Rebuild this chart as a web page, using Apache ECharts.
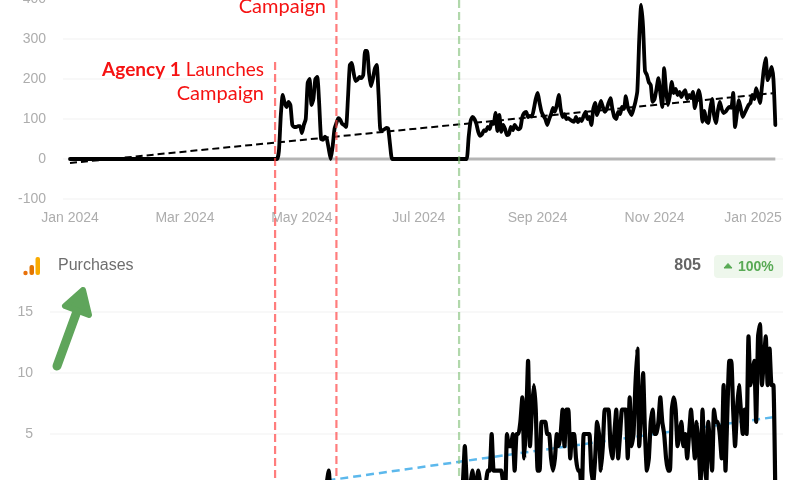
<!DOCTYPE html>
<html><head><meta charset="utf-8">
<style>html,body{margin:0;padding:0;background:#fff}#c{width:800px;height:480px}</style>
<script src="https://cdn.jsdelivr.net/npm/echarts@6/dist/echarts.min.js"></script>
</head><body><div id="c"></div>
<script>
const firstDay = '2024-01-01';
const xTickLabels = ['2024-01-01','2024-03-01','2024-05-01','2024-07-01','2024-09-01','2024-11-01','2025-01-01'];
const yTicksTop = [-100,0,100,200,300,400];
const yTicksBottom = [5,10,15];

// daily values, first entry = firstDay, rows of ten
const sessions = [
0,0,0,0,0,0,0,0,0,0, 0,0,0,0,0,0,0,0,0,0, 0,0,0,0,0,0,0,0,0,0, 0,0,0,0,0,0,0,0,0,0,
0,0,0,0,0,0,0,0,0,0, 0,0,0,0,0,0,0,0,0,0, 0,0,0,0,0,0,0,0,0,0, 0,0,0,0,0,0,0,0,0,0,
0,0,0,0,0,0,0,0,0,0, 0,0,0,0,0,0,0,0,0,0,
/*100*/0,0,0,0,0,0,0,0,0,20, 110,160,140,130,143,135,85,80,80,82,
/*120*/82,65,85,100,190,200,135,150,200,205, 140,50,48,56,50,25,0,30,75,90,
/*140*/102,98,88,85,80,150,235,240,215,195, 198,205,202,210,270,270,215,182,200,225,
/*160*/235,160,72,72,74,78,76,35,0,0, 0,0,0,0,0,0,0,0,0,0,
/*180*/0,0,0,0,0,0,0,0,0,0, 0,0,0,0,0,0,0,0,0,0,
/*200*/0,0,0,0,0,0,0,0,55,95, 105,100,88,68,58,62,72,70,80,75,
/*220*/92,88,115,70,110,68,85,75,60,62, 80,72,85,78,74,78,105,115,118,105,
/*240*/108,106,125,150,165,140,118,108,100,85, 100,112,128,118,135,160,125,105,112,100,
/*260*/102,98,95,93,105,92,100,95,108,118, 100,105,85,125,140,110,125,145,130,118,
/*280*/125,140,152,125,105,100,118,112,130,125, 157,130,118,110,125,143,170,300,385,330,
/*300*/220,210,192,185,143,150,175,202,165,130, 227,170,135,160,193,165,175,160,168,155,
/*320*/165,172,150,160,152,168,127,150,172,150, 93,120,95,90,125,150,110,90,120,143,
/*340*/125,115,118,125,130,128,165,80,115,147, 125,105,115,125,135,140,160,150,177,160,
/*360*/140,180,225,252,197,210,230,200,85];

const purchases = [
0,0,0,0,0,0,0,0,0,0, 0,0,0,0,0,0,0,0,0,0, 0,0,0,0,0,0,0,0,0,0, 0,0,0,0,0,0,0,0,0,0,
0,0,0,0,0,0,0,0,0,0, 0,0,0,0,0,0,0,0,0,0, 0,0,0,0,0,0,0,0,0,0, 0,0,0,0,0,0,0,0,0,0,
0,0,0,0,0,0,0,0,0,0, 0,0,0,0,0,0,0,0,0,0,
/*100*/0,0,0,0,0,0,0,0,0,0, 1,0,1,0,0,1,0,0,0,1, 0,0,1,0,1,0,0,0,1,0, 0,1,0,0,1,2,0,0,1,0,
/*140*/0,1,0,0,1,0,1,0,0,1, 0,0,1,0,1,0,1,0,0,0, 1,0,0,0,1,0,0,0,0,0, 0,0,0,0,0,0,0,0,0,0,
/*180*/0,0,0,0,0,0,0,0,0,0, 0,0,0,0,0,0,0,0,0,0,
/*200*/0,0,0,0,0,1,4,1,0,1, 2,0,1,2,1,0,0,1,2,2,
/*220*/5,2,2,2,2,2,1,0,5,4, 4,5,2,5,5,6,8,3,6,11,
/*240*/4,7,9,7,2,2,6,6,6,5, 5,3,2,3,5,4,5,7,4,7,
/*260*/7,3,5,5,3,2,2,0,5,5, 5,5,2,1,3,6,5,2,4,7,
/*280*/7,7,4,3,5,7,3,5,7,7, 7,3,8,4,5,9,12,4,7,10,
/*300*/5,2,3,6,7,5,5,6,8,6, 5,3,2,2,7,8,7,4,5,6,
/*320*/4,5,3,5,7,5,3,6,4,1, 7,3,1,6,4,2,7,6,6,5,
/*340*/3,9,2,7,11,11,7,4,7,9, 7,5,7,5,13,9,10,11,6,13,
/*360*/14,9,11,13,9,12,9,9,0];

const trendDays = [0, 368];
const sessionsTrend = [-10, 165];
const purchasesTrend = [-1.8, 6.4];

const eventDays = ['2024-04-17','2024-05-19','2024-07-22'];
const eventColors = ['rgba(255,70,70,0.7)','rgba(255,70,70,0.7)','rgba(125,190,115,0.6)'];
const eventTops = [62,0,0];

const DAY = 86400000;
const t0 = Date.parse(firstDay);
const dayOf = s => (Date.parse(s)-t0)/DAY;
const asPairs = vals => vals.map((v,i)=>[i,v]);
const trendPairs = vals => trendDays.map((d,i)=>[d,vals[i]]);
const labelStyle = {color:'#adadad',fontFamily:'Liberation Sans',fontSize:14};
const gridLine = {show:true,lineStyle:{color:'#f6f6f6',width:1.5}};
const hideAxis = {axisLine:{show:false},axisTick:{show:false}};
const MONTHS = ['Jan','Feb','Mar','Apr','May','Jun','Jul','Aug','Sep','Oct','Nov','Dec'];

const option = {
  animation:false,
  backgroundColor:'#fff',
  grid:[
    {left:63,width:720,top:-1,height:200,outerBoundsMode:'none'},
    {left:50,width:733,top:312,height:183,outerBoundsMode:'none'},
    {left:63,width:720,top:0,height:480,outerBoundsMode:'none'}
  ],
  xAxis:[
    {type:'value',gridIndex:0,min:-3.65,max:372,...hideAxis,splitLine:{show:false},
     axisLabel:{...labelStyle,margin:12,
       customValues:xTickLabels.map(dayOf),
       formatter:(v)=>{
         const d=new Date(t0+v*DAY);
         const s=MONTHS[d.getUTCMonth()]+' '+d.getUTCFullYear();
         return d.getUTCFullYear()===2025?'{end|'+s+'}':s;
       },
       rich:{end:{...labelStyle,padding:[0,37,0,0]}}}},
    {type:'value',gridIndex:1,min:-10.43,max:372,...hideAxis,splitLine:{show:false},axisLabel:{show:false}},
    {type:'value',gridIndex:2,min:-3.65,max:372,show:false,splitLine:{show:false}}
  ],
  yAxis:[
    {type:'value',gridIndex:0,min:yTicksTop[0],max:yTicksTop[yTicksTop.length-1],interval:100,...hideAxis,
     splitLine:gridLine,axisLabel:{...labelStyle,margin:17}},
    {type:'value',gridIndex:1,min:0,max:yTicksBottom[yTicksBottom.length-1],interval:5,...hideAxis,
     splitLine:gridLine,axisLabel:{...labelStyle,margin:17,formatter:v=>v===0?'':v}},
    {type:'value',gridIndex:2,min:0,max:480,inverse:true,show:false,splitLine:{show:false}}
  ],
  series:[
    {type:'line',xAxisIndex:0,yAxisIndex:0,data:asPairs(sessions.map(()=>0)),showSymbol:false,silent:true,
     lineStyle:{color:'#b5b5b5',width:3},z:2},
    {type:'line',xAxisIndex:0,yAxisIndex:0,data:asPairs(sessions),showSymbol:false,smooth:0.2,
     lineStyle:{color:'#000',width:3.8,join:'round',cap:'round'},z:3},
    {type:'line',xAxisIndex:0,yAxisIndex:0,data:trendPairs(sessionsTrend),showSymbol:false,
     lineStyle:{color:'#000',width:2,type:[7,4]},z:4},
    {type:'line',xAxisIndex:1,yAxisIndex:1,data:trendPairs(purchasesTrend),showSymbol:false,
     lineStyle:{color:'#5cb8ec',width:2.5,type:[8,5]},z:2},
    {type:'line',xAxisIndex:1,yAxisIndex:1,data:asPairs(purchases),showSymbol:false,smooth:0.15,
     lineStyle:{color:'#000',width:4.2,join:'round',cap:'round'},z:3},
    ...eventDays.map((d,i)=>({type:'line',xAxisIndex:2,yAxisIndex:2,showSymbol:false,
      data:[[dayOf(d),eventTops[i]],[dayOf(d),480]],
      lineStyle:{color:eventColors[i],width:2.2,type:[8,4]},z:6}))
  ],
  graphic:[
    {type:'text',z:20,style:{x:264,y:70,align:'right',verticalAlign:'middle',
      text:'{b|Agency 1} Launches',fill:'#f51212',font:'19px Lato',
      rich:{b:{font:'bold 19px Lato',fill:'#f51212'}}}},
    {type:'text',z:20,style:{x:264,y:94,align:'right',verticalAlign:'middle',text:'Campaign',fill:'#f51212',font:'20px Lato'}},
    {type:'text',z:20,style:{x:326,y:7,align:'right',verticalAlign:'middle',text:'Campaign',fill:'#f51212',font:'20px Lato'}},
    {type:'circle',z:20,shape:{cx:25.5,cy:273,r:2.2},style:{fill:'#e8710a'}},
    {type:'rect',z:20,shape:{x:29.5,y:265,width:4.5,height:10,r:2},style:{fill:'#e37400'}},
    {type:'rect',z:20,shape:{x:35.5,y:257,width:4.5,height:18,r:2},style:{fill:'#f9ab00'}},
    {type:'text',z:20,style:{x:58,y:266,verticalAlign:'middle',text:'Purchases',fill:'#6e6e6e',font:'16px Liberation Sans'}},
    {type:'text',z:20,style:{x:701,y:266,align:'right',verticalAlign:'middle',text:'805',fill:'#666',font:'bold 16px Liberation Sans'}},
    {type:'rect',z:20,shape:{x:714,y:255,width:69,height:23,r:4},style:{fill:'#eef7ec'}},
    {type:'polygon',z:21,shape:{points:[[724,268],[732,268],[728,263.5]]},style:{fill:'#58aa55',stroke:'#58aa55',lineWidth:1,lineJoin:'round'}},
    {type:'text',z:21,style:{x:738,y:267,verticalAlign:'middle',text:'100%',fill:'#58aa55',font:'bold 14px Liberation Sans'}},
    {type:'line',z:20,shape:{x1:57,y1:366,x2:76,y2:314},style:{stroke:'#5fa55b',lineWidth:9,lineCap:'round'}},
    {type:'polygon',z:20,shape:{points:[[83,290],[65,306],[89,315]]},style:{fill:'#5fa55b',stroke:'#5fa55b',lineWidth:6,lineJoin:'round'}}
  ]
};
echarts.init(document.getElementById('c'),null,{renderer:'canvas'}).setOption(option);
</script></body></html>
